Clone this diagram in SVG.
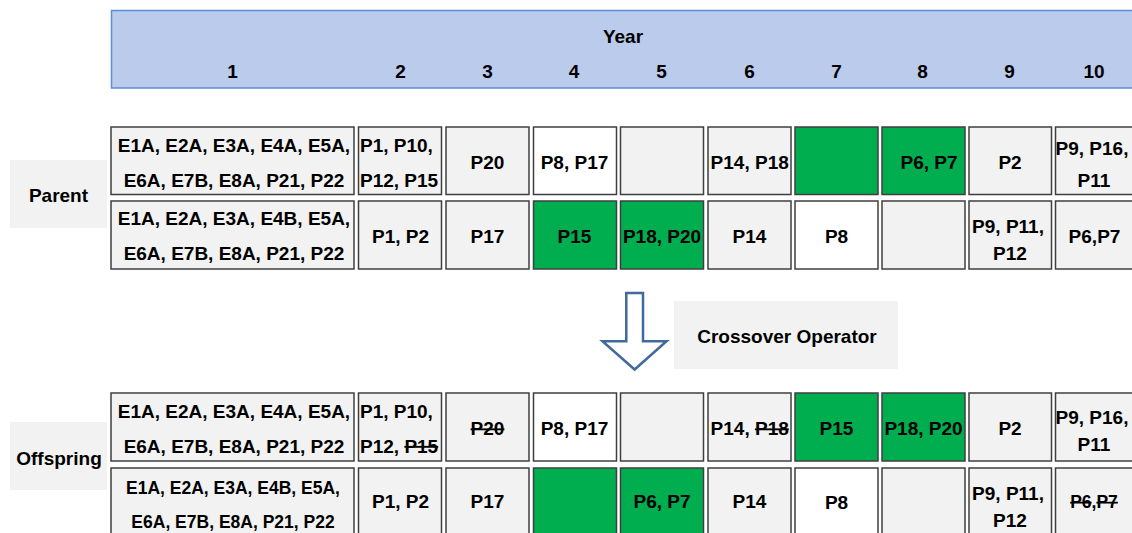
<svg xmlns="http://www.w3.org/2000/svg" width="1132" height="533" viewBox="0 0 1132 533">
  <style>
    text { font-family: "Liberation Sans", Arial, sans-serif; font-weight: bold; font-size: 19px; fill: #000; }
    .c { text-anchor: middle; }
    .l { text-anchor: start; }
    .sm { font-size: 17.5px; }
    .cell { stroke: #3f3f3f; stroke-width: 1.5; }
    .g { fill: #f2f2f2; }
    .w { fill: #ffffff; }
    .gr { fill: #00ae50; }
    .lab { fill: #f2f2f2; }
    .x { text-decoration: line-through; }
  </style>

  <!-- Year header band -->
  <g id="header">
    <rect x="111.5" y="10.5" width="1040" height="77.5" fill="#bacbec" stroke="#5a8ed8" stroke-width="1.5"/>
    <text class="c" x="623" y="43">Year</text>
    <text class="c" x="232.5" y="77.5">1</text>
    <text class="c" x="400.5" y="77.5">2</text>
    <text class="c" x="487.5" y="77.5">3</text>
    <text class="c" x="574" y="77.5">4</text>
    <text class="c" x="661.5" y="77.5">5</text>
    <text class="c" x="749.5" y="77.5">6</text>
    <text class="c" x="836.5" y="77.5">7</text>
    <text class="c" x="922.5" y="77.5">8</text>
    <text class="c" x="1009.5" y="77.5">9</text>
    <text class="c" x="1094" y="77.5">10</text>
  </g>

  <!-- Row labels -->
  <g id="label-parent">
    <rect class="lab" x="10" y="160" width="97" height="68"/>
    <text class="c" x="58.5" y="201.5">Parent</text>
  </g>
  <g id="label-offspring">
    <rect class="lab" x="10" y="422" width="97" height="68"/>
    <text class="c" x="59" y="464.5">Offspring</text>
  </g>

  <!-- Parent chromosome 1 -->
  <g id="parent-1">
    <rect class="cell g" x="111" y="127" width="243" height="67.5"/>
    <text class="c" x="234" y="152">E1A, E2A, E3A, E4A, E5A,</text>
    <text class="c" x="234" y="186.5">E6A, E7B, E8A, P21, P22</text>
    <rect class="cell g" x="358.5" y="127" width="83" height="67.5"/>
    <text class="l" x="360" y="152">P1, P10,</text>
    <text class="l" x="360" y="186.5">P12, P15</text>
    <rect class="cell g" x="446" y="127" width="83" height="67.5"/>
    <text class="c" x="487.5" y="169">P20</text>
    <rect class="cell w" x="533.5" y="127" width="83" height="67.5"/>
    <text class="c" x="574.5" y="169">P8, P17</text>
    <rect class="cell g" x="620.5" y="127" width="83" height="67.5"/>
    <rect class="cell g" x="708" y="127" width="83" height="67.5"/>
    <text class="c" x="749.7" y="169">P14, P18</text>
    <rect class="cell gr" x="795" y="127" width="83" height="67.5"/>
    <rect class="cell gr" x="882" y="127" width="83" height="67.5"/>
    <text class="c" x="929" y="169">P6, P7</text>
    <rect class="cell g" x="969" y="127" width="82.5" height="67.5"/>
    <text class="c" x="1010" y="169">P2</text>
    <rect class="cell g" x="1055.5" y="127" width="83" height="67.5"/>
    <text class="c" x="1092" y="154.5">P9, P16,</text>
    <text class="c" x="1094" y="187">P11</text>
  </g>

  <!-- Parent chromosome 2 -->
  <g id="parent-2">
    <rect class="cell g" x="111" y="201" width="243" height="68"/>
    <text class="c" x="234" y="225">E1A, E2A, E3A, E4B, E5A,</text>
    <text class="c" x="234" y="260">E6A, E7B, E8A, P21, P22</text>
    <rect class="cell g" x="358.5" y="201" width="83" height="68"/>
    <text class="c" x="400.5" y="242.5">P1, P2</text>
    <rect class="cell g" x="446" y="201" width="83" height="68"/>
    <text class="c" x="487.5" y="242.5">P17</text>
    <rect class="cell gr" x="533.5" y="201" width="83" height="68"/>
    <text class="c" x="574.5" y="242.5">P15</text>
    <rect class="cell gr" x="620.5" y="201" width="83" height="68"/>
    <text class="c" x="662" y="242.5">P18, P20</text>
    <rect class="cell g" x="708" y="201" width="83" height="68"/>
    <text class="c" x="749.5" y="242.5">P14</text>
    <rect class="cell w" x="795" y="201" width="83" height="68"/>
    <text class="c" x="836.5" y="243">P8</text>
    <rect class="cell g" x="882" y="201" width="83" height="68"/>
    <rect class="cell g" x="969" y="201" width="82.5" height="68"/>
    <text class="c" x="1008" y="233">P9, P11,</text>
    <text class="c" x="1010" y="259.5">P12</text>
    <rect class="cell g" x="1055.5" y="201" width="83" height="68"/>
    <text class="c" x="1094.5" y="243">P6,P7</text>
  </g>

  <!-- Crossover step -->
  <g id="crossover-arrow">
    <path d="M626.3,293 H643 V341.3 H666.5 L634.6,369.5 L602.5,341.3 H626.3 Z" fill="#ffffff" stroke="#41699c" stroke-width="2.5" stroke-linejoin="miter"/>
  </g>
  <g id="crossover-label">
    <rect class="lab" x="674" y="301" width="224" height="68"/>
    <text class="c" x="787" y="343">Crossover Operator</text>
  </g>

  <!-- Offspring chromosome 1 -->
  <g id="offspring-1">
    <rect class="cell g" x="111" y="393" width="243" height="68"/>
    <text class="c" x="234" y="418">E1A, E2A, E3A, E4A, E5A,</text>
    <text class="c" x="234" y="452.5">E6A, E7B, E8A, P21, P22</text>
    <rect class="cell g" x="358.5" y="393" width="83" height="68"/>
    <text class="l" x="360" y="418">P1, P10,</text>
    <text class="l" x="360" y="452.5">P12, <tspan class="x">P15</tspan></text>
    <rect class="cell g" x="446" y="393" width="83" height="68"/>
    <text class="c" x="487.5" y="435"><tspan class="x">P20</tspan></text>
    <rect class="cell w" x="533.5" y="393" width="83" height="68"/>
    <text class="c" x="574.5" y="435">P8, P17</text>
    <rect class="cell g" x="620.5" y="393" width="83" height="68"/>
    <rect class="cell g" x="708" y="393" width="83" height="68"/>
    <text class="c" x="749.7" y="435">P14, <tspan class="x">P18</tspan></text>
    <rect class="cell gr" x="795" y="393" width="83" height="68"/>
    <text class="c" x="836.5" y="435">P15</text>
    <rect class="cell gr" x="882" y="393" width="83" height="68"/>
    <text class="c" x="923.5" y="435">P18, P20</text>
    <rect class="cell g" x="969" y="393" width="82.5" height="68"/>
    <text class="c" x="1010" y="435">P2</text>
    <rect class="cell g" x="1055.5" y="393" width="83" height="68"/>
    <text class="c" x="1092" y="424">P9, P16,</text>
    <text class="c" x="1094" y="451">P11</text>
  </g>

  <!-- Offspring chromosome 2 -->
  <g id="offspring-2">
    <rect class="cell g" x="111" y="468" width="243" height="68"/>
    <text class="c sm" x="233" y="494">E1A, E2A, E3A, E4B, E5A,</text>
    <text class="c sm" x="233" y="528">E6A, E7B, E8A, P21, P22</text>
    <rect class="cell g" x="358.5" y="468" width="83" height="68"/>
    <text class="c" x="400.5" y="508">P1, P2</text>
    <rect class="cell g" x="446" y="468" width="83" height="68"/>
    <text class="c" x="487.5" y="508">P17</text>
    <rect class="cell gr" x="533.5" y="468" width="83" height="68"/>
    <rect class="cell gr" x="620.5" y="468" width="83" height="68"/>
    <text class="c" x="662" y="508">P6, P7</text>
    <rect class="cell g" x="708" y="468" width="83" height="68"/>
    <text class="c" x="749.5" y="508">P14</text>
    <rect class="cell w" x="795" y="468" width="83" height="68"/>
    <text class="c" x="836.5" y="509">P8</text>
    <rect class="cell g" x="882" y="468" width="83" height="68"/>
    <rect class="cell g" x="969" y="468" width="82.5" height="68"/>
    <text class="c" x="1008" y="500">P9, P11,</text>
    <text class="c" x="1010" y="527">P12</text>
    <rect class="cell g" x="1055.5" y="468" width="83" height="68"/>
    <text class="c sm" x="1094" y="508"><tspan class="x">P6</tspan>,<tspan class="x">P7</tspan></text>
  </g>
</svg>
